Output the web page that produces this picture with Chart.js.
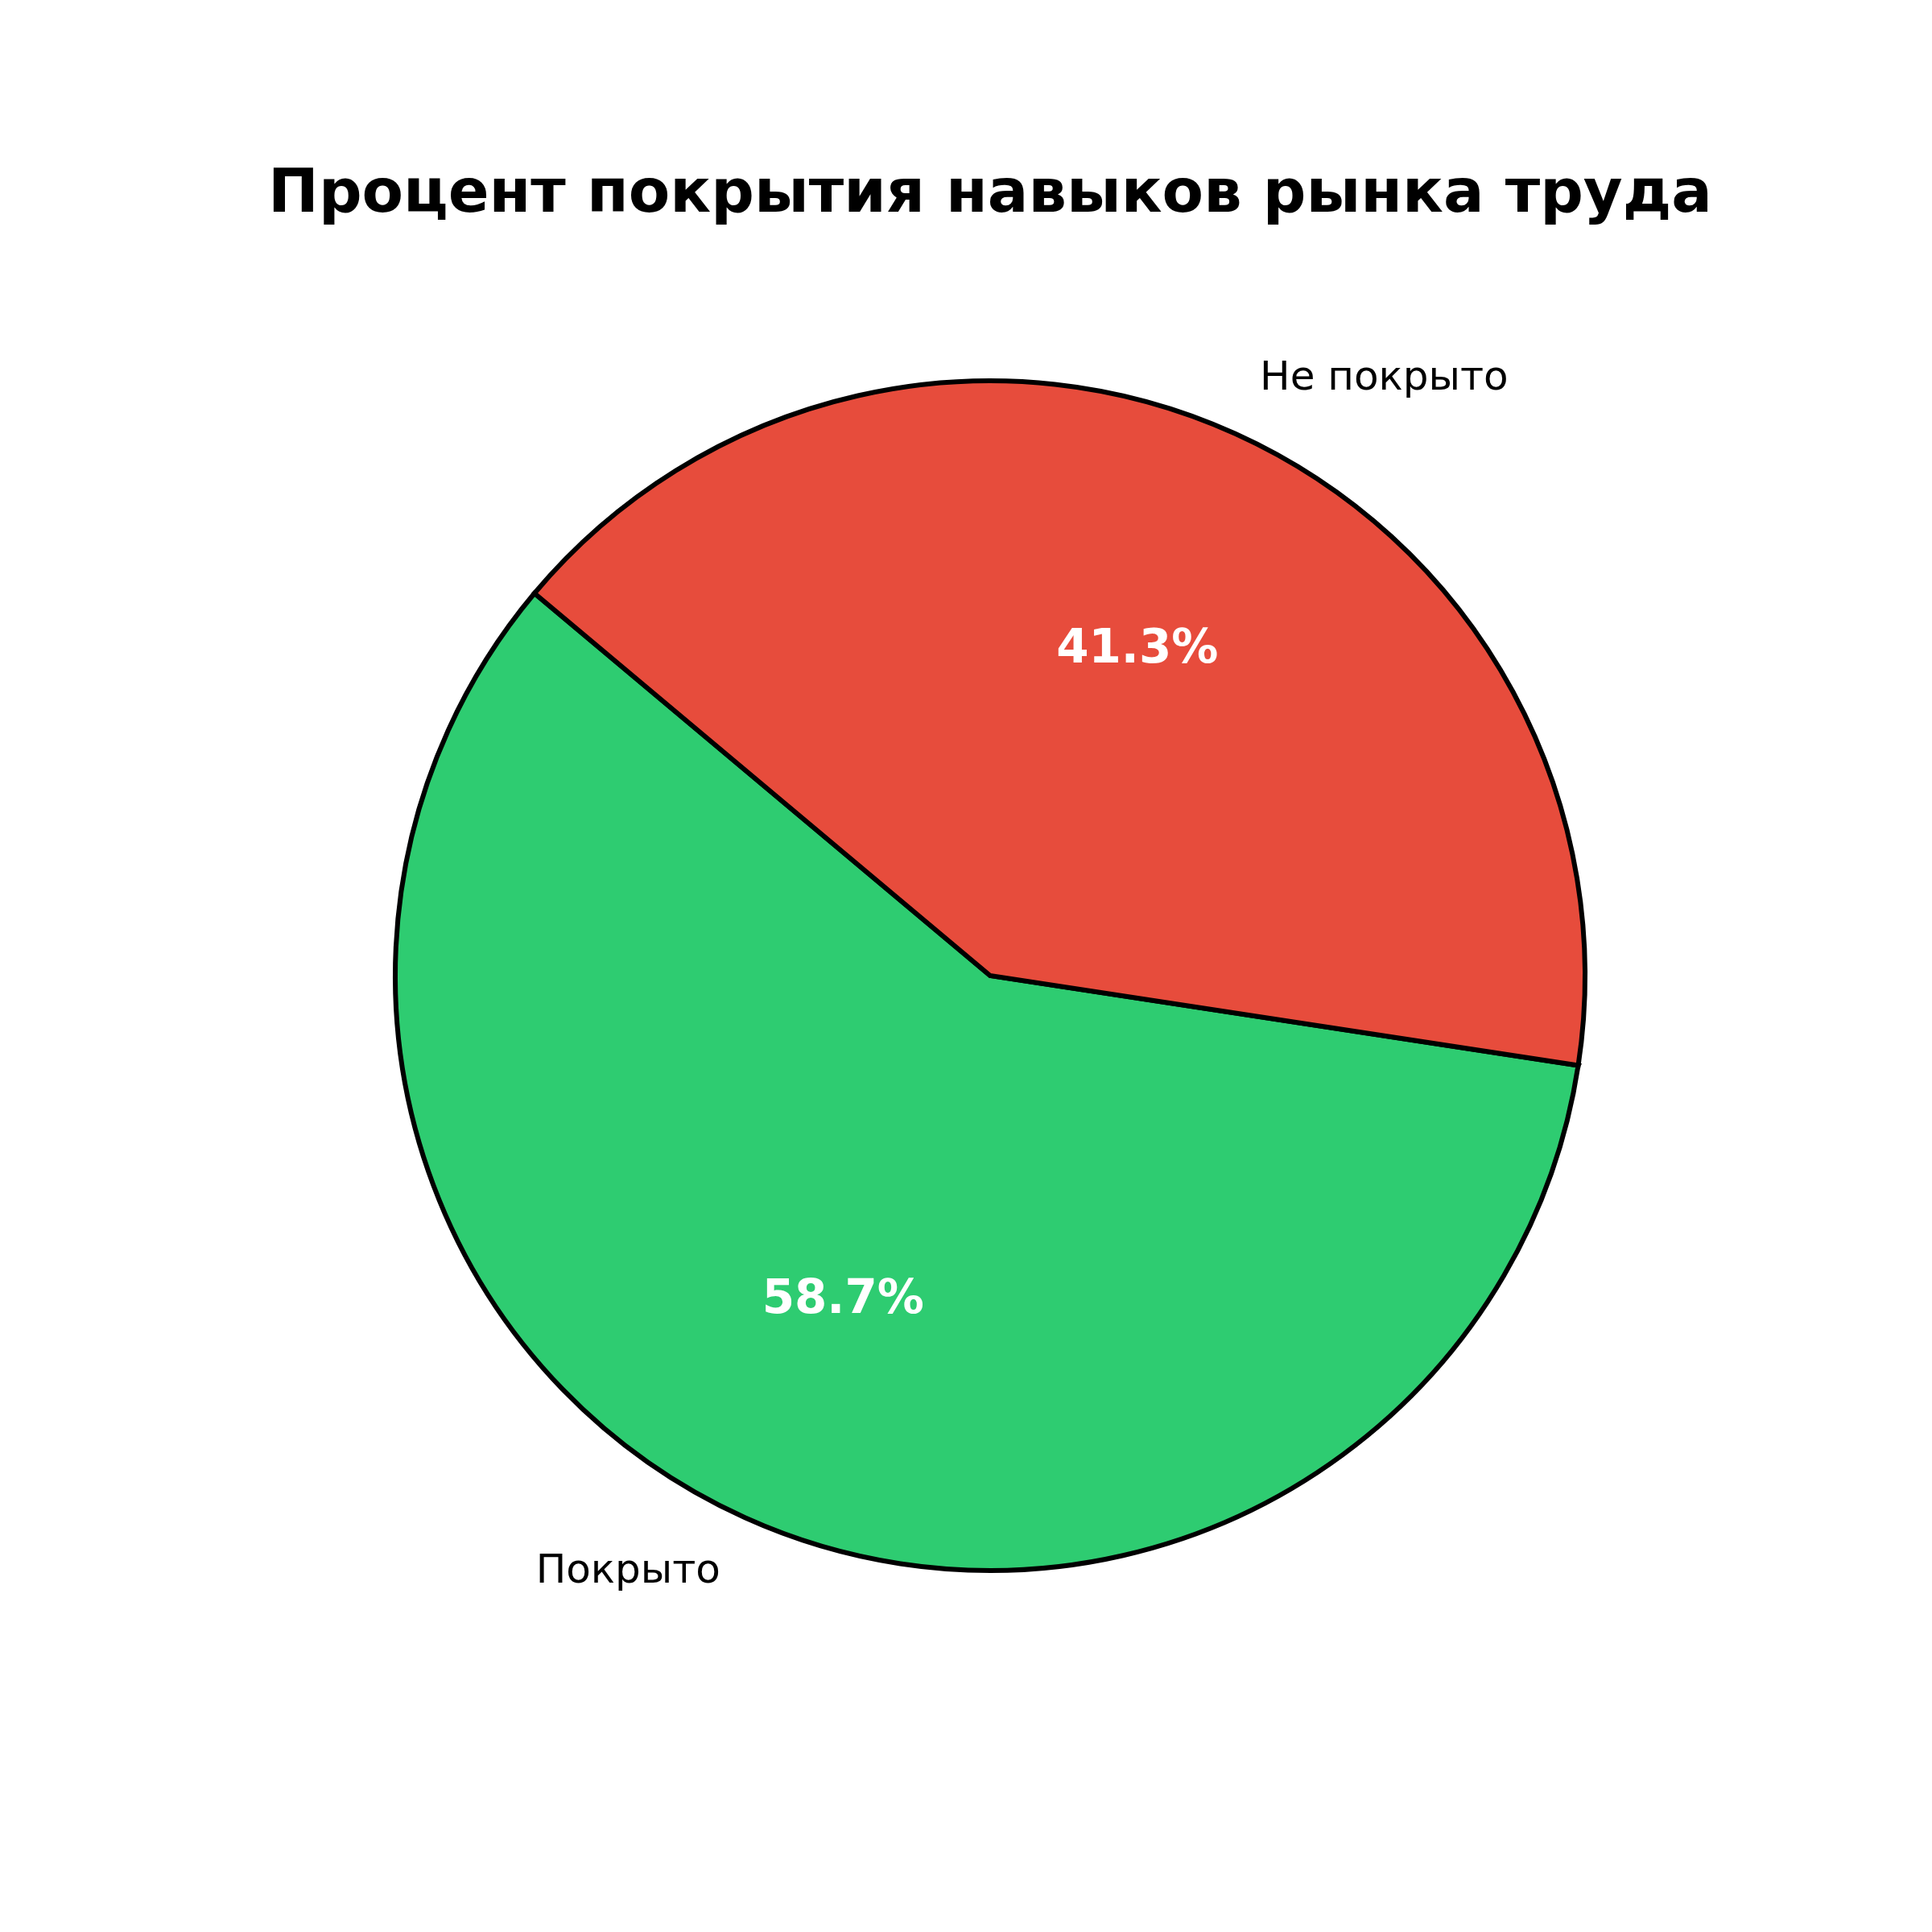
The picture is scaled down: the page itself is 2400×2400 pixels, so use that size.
<!DOCTYPE html>
<html>
<head>
<meta charset="utf-8">
<script src="https://cdn.jsdelivr.net/npm/chart.js@4.4.0/dist/chart.umd.min.js"></script>
<style>
html,body{margin:0;padding:0;background:#fff;}
#wrap{width:2400px;height:2400px;}
</style>
</head>
<body>
<div id="wrap"><canvas id="c" width="2400" height="2400"></canvas></div>
<script>
const titleText = "Процент покрытия навыков рынка труда";
const categories = ["Покрыто", "Не покрыто"];
const values = [58.7, 41.3];
const colors = ["#2ecc71", "#e74c3c"];
const startAngleDeg = 140; // matplotlib-style start angle (counterclockwise from +x)

const total = values.reduce((a, b) => a + b, 0);
// Chart.js draws clockwise from top; emulate counterclockwise order starting at startAngle
const firstSweep = values[0] / total * 360;
const rotation = 90 - (startAngleDeg + firstSweep);

const FONT = "'DejaVu Sans', sans-serif";

const labelPlugin = {
  id: 'pieLabels',
  afterDraw(chart) {
    const ctx = chart.ctx;
    const meta = chart.getDatasetMeta(0);
    ctx.save();
    meta.data.forEach((arc, i) => {
      const p = arc.getProps(['x', 'y', 'startAngle', 'endAngle', 'outerRadius'], true);
      const mid = (p.startAngle + p.endAngle) / 2;
      const r = p.outerRadius;
      // percentage
      const px = p.x + Math.cos(mid) * r * 0.6;
      const py = p.y + Math.sin(mid) * r * 0.6;
      ctx.fillStyle = '#ffffff';
      ctx.font = "bold 58px " + FONT;
      ctx.textAlign = 'center';
      ctx.textBaseline = 'middle';
      ctx.fillText((values[i] / total * 100).toFixed(1) + '%', px, py);
      // category label
      const lx = p.x + Math.cos(mid) * r * 1.1;
      const ly = p.y + Math.sin(mid) * r * 1.1;
      ctx.fillStyle = '#000000';
      ctx.font = "50px " + FONT;
      ctx.textAlign = Math.cos(mid) >= 0 ? 'left' : 'right';
      ctx.textBaseline = 'middle';
      ctx.fillText(categories[i], lx, ly);
    });
    // title
    ctx.fillStyle = '#000000';
    ctx.font = "bold 75px " + FONT;
    ctx.textAlign = 'center';
    ctx.textBaseline = 'alphabetic';
    ctx.fillText(titleText, 1230, 263);
    ctx.restore();
  }
};

new Chart(document.getElementById('c'), {
  type: 'pie',
  data: {
    labels: categories,
    datasets: [{
      data: values,
      backgroundColor: colors,
      borderColor: '#000000',
      borderWidth: 6,
      borderJoinStyle: 'miter'
    }]
  },
  options: {
    responsive: false,
    animation: false,
    rotation: rotation,
    layout: { padding: { left: 488, right: 428, top: 470, bottom: 446 } },
    plugins: {
      legend: { display: false },
      title: { display: false },
      tooltip: { enabled: false }
    }
  },
  plugins: [labelPlugin]
});
</script>
</body>
</html>
